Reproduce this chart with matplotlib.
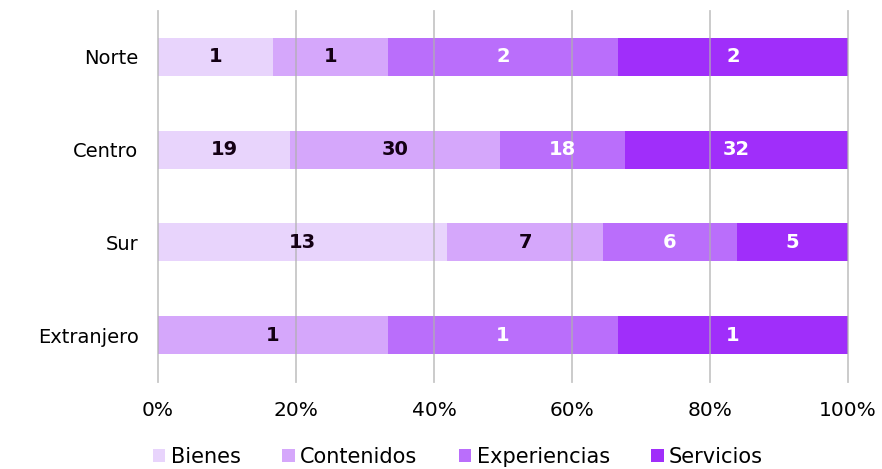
import matplotlib
matplotlib.use("Agg")
import matplotlib.pyplot as plt
import numpy as np

categories = ["Norte", "Centro", "Sur", "Extranjero"]
series_names = ["Bienes", "Contenidos", "Experiencias", "Servicios"]
bienes = [1, 19, 13, 0]
contenidos = [1, 30, 7, 1]
experiencias = [2, 18, 6, 1]
servicios = [2, 32, 5, 1]
xtick_labels = ["0%", "20%", "40%", "60%", "80%", "100%"]

colors = ["#E8D4FC", "#D5A7FB", "#BA6EFB", "#A02EFA"]
label_colors = ["#140014", "#140014", "white", "white"]

plt.rcParams['font.family'] = ['DejaVu Sans']

fig = plt.figure(figsize=(8.82, 4.69), dpi=100)
ax = fig.add_axes([158/882, 1-381.5/469, 690/882, 371/469])

data = np.array([bienes, contenidos, experiencias, servicios], dtype=float)
totals = data.sum(axis=0)
pct = data / totals * 100
y = np.arange(len(categories))
left = np.zeros(len(categories))
for i, name in enumerate(series_names):
    ax.barh(y, pct[i], left=left, height=0.41, color=colors[i], label=name, zorder=1)
    for j in range(len(categories)):
        if data[i, j] > 0:
            ax.text(left[j] + pct[i, j] / 2, y[j], f"{int(data[i, j])}",
                    ha="center", va="center", fontsize=14, fontweight="bold",
                    color=label_colors[i], zorder=3)
    left += pct[i]

ax.set_ylim(3.5, -0.5)
ax.set_xlim(0, 100)
ax.set_yticks(y)
ax.set_yticklabels(categories, fontsize=14)
ax.set_xticks(np.arange(0, 101, 20))
ax.set_xticklabels(xtick_labels, fontsize=14.5)
ax.tick_params(axis="both", length=0)
ax.tick_params(axis="x", pad=14)
ax.tick_params(axis="y", pad=14)
for s in ax.spines.values():
    s.set_visible(False)
ax.set_axisbelow(False)
ax.grid(axis="x", color="#b0b0b0", linewidth=1.3, alpha=0.7, zorder=2)
for gl in ax.get_xgridlines():
    gl.set_clip_on(False)

handles, labels = ax.get_legend_handles_labels()
leg = fig.legend(handles, labels, loc="center", bbox_to_anchor=(458/882, 1-457/469),
                 ncol=4, frameon=False, fontsize=15, handlelength=0.6, handleheight=0.6,
                 handletextpad=0.25, columnspacing=2.0)

fig.savefig("out.png", dpi=100)
